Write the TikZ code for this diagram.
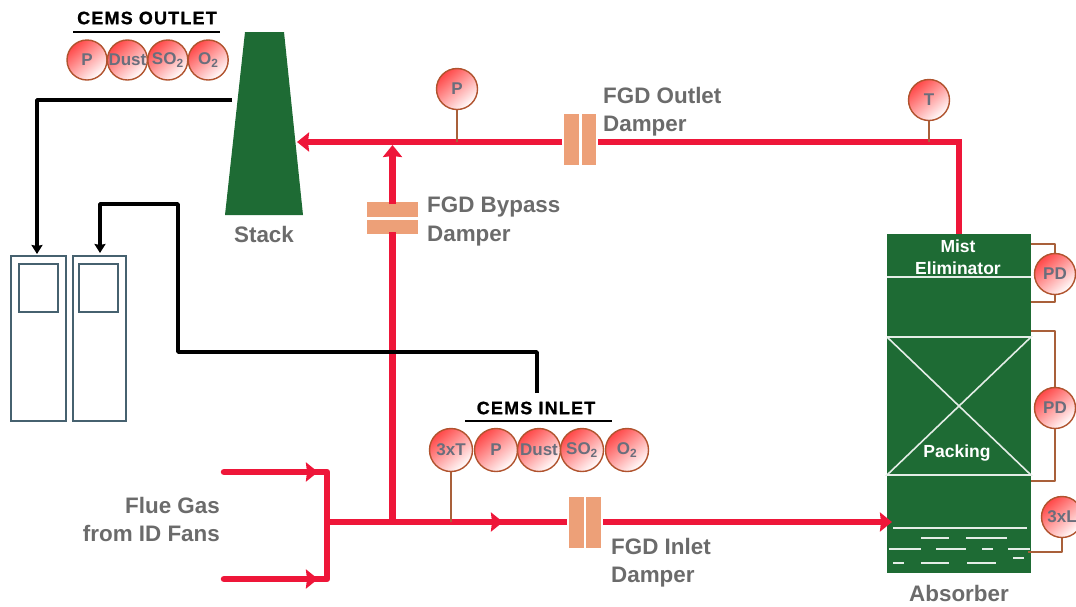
\documentclass[tikz,border=0pt]{standalone}
\usepackage{fontspec}
\setmainfont{Liberation Sans}
\usepackage{xcolor}
\usetikzlibrary{arrows.meta,positioning}
\definecolor{pipered}{HTML}{EE1639}
\definecolor{towergreen}{HTML}{1E6B34}
\definecolor{damperor}{HTML}{EDA078}
\definecolor{stembrown}{HTML}{A9603A}
\definecolor{ringbrown}{HTML}{B0532E}
\definecolor{labelgray}{HTML}{6B6B6B}
\definecolor{tagtext}{HTML}{6A6E7C}
\definecolor{cabinet}{HTML}{46616F}
\newcommand{\fsz}[1]{\fontsize{#1}{#1}\selectfont}

\begin{document}
\begin{tikzpicture}[x=1pt, y=-1pt,
  tag/.style={circle, draw=ringbrown, line width=1.4pt, minimum size=41pt, inner sep=0pt,
              shading=axis, top color=red!72!white, bottom color=white, shading angle=40,
              text=tagtext, font=\fsz{17}\bfseries},
  tagout/.style={tag, minimum size=40pt},
  tagin/.style={tag, minimum size=43pt},
  biglabel/.style={text=labelgray, font=\fsz{22.4}\bfseries, align=left, inner sep=0pt},
  inlabel/.style={text=white, font=\fsz{17.5}\bfseries, align=center, inner sep=0pt},
  cemslabel/.style={font=\fsz{17.9}\bfseries\addfontfeatures{LetterSpace=7,FakeBold=1.2}, inner sep=0pt},
  damper/.style={fill=damperor, inner sep=0pt, outer sep=0pt},
  cabinetbox/.style={draw=cabinet, line width=1.3pt, fill=white, inner sep=0pt, outer sep=0pt},
  pipe/.style={draw=pipered, line width=6.5pt},
  arr/.style={pipe, -{Stealth[length=12pt, width=19pt, inset=1pt]}},
  sigline/.style={draw=black, line width=2.8pt, line join=round},
  sigarr/.style={line width=3.6pt, line join=round, draw=black, -{Stealth[length=9pt, width=11pt, inset=1pt]}},
  stem/.style={draw=stembrown, line width=1.8pt, line join=round},
  inline/.style={draw=white!88!towergreen, line width=1.6pt}]
\clip (0,0) rectangle (1076,606);

% stack and absorber
\fill[towergreen] (245,32) -- (284,32) -- (303,215) -- (225,215) -- cycle;
\node[biglabel] (stacklbl) at (264,234) {Stack};
\node[fill=towergreen, inner sep=0pt, outer sep=0pt, minimum width=144pt, minimum height=339pt] (absorber) at (959,403.5) {};
\node[biglabel, below=12pt of absorber] (absorberlbl) {Absorber};
\draw[inline] (887,277) -- (1031,277);
\draw[inline] (887,337) -- (1031,337) -- (887,475) -- (1031,475) -- (887,337);
\draw[inline] (1031,337) -- (887,337);
\node[inlabel] (mistlbl) at (958,257) {Mist\\[4.5pt]Eliminator};
\node[inlabel] (packlbl) at (957,453) {Packing};
\foreach \xa/\xb/\yy in {893/1027/528, 921/949/538, 966/1007/538, 889/921/549, 936/966/549,
    982/993/549, 1008/1030/549, 1013/1024/558, 893/904/563, 921/949/563, 967/996/563}
  \draw[inline] (\xa,\yy) -- (\xb,\yy);

% dampers
\node[damper, minimum width=15pt, minimum height=51pt] (outd1) at (571.5,139.5) {};
\node[damper, minimum width=14pt, minimum height=51pt, right=3pt of outd1] (outd2) {};
\node[damper, minimum width=51pt, minimum height=15pt] (byp1) at (392.5,209.5) {};
\node[damper, minimum width=51pt, minimum height=14pt, below=3pt of byp1] (byp2) {};
\node[damper, minimum width=15pt, minimum height=51pt] (ind1) at (576.5,522.5) {};
\node[damper, minimum width=15pt, minimum height=51pt, right=2pt of ind1] (ind2) {};
\node[biglabel, anchor=west] (outlbl) at (603,111.5) {FGD Outlet\\[6pt]Damper};
\node[biglabel, anchor=west] (byplbl) at (427,221.5) {FGD Bypass\\[6pt]Damper};
\node[biglabel, anchor=west] (inlbl) at (611,562.5) {FGD Inlet\\[6pt]Damper};
\node[biglabel, align=right, anchor=east] (fluelbl) at (220,519.5) {Flue Gas\\[6pt]from ID Fans};

% gas pipes
\coordinate (stackin) at (297,142);
\coordinate (fluetop) at (224,472);
\coordinate (fluebot) at (224,579);
\coordinate (headtop) at (327,472);
\coordinate (headbot) at (327,579);
\coordinate (headout) at (327,522);
\coordinate (bypfoot) at (392.5,522);
\coordinate (bypjoin) at (392.5,145);
\draw[pipe] (absorber.north) |- ([xshift=2pt]outd2.east |- stackin);
\draw[arr] ([xshift=-2pt]outd1.west |- stackin) -- (stackin);
\draw[pipe] (bypfoot) -- ([yshift=2pt]byp2.south);
\draw[arr] ([yshift=-2pt]byp1.north) -- (bypjoin);
\draw[pipe, line join=round, line cap=round] (fluetop) -- (headtop) -- (headbot) -- (fluebot);
\draw[arr] (fluetop) -- ([xshift=-9pt]headtop);
\draw[arr] (fluebot) -- ([xshift=-9pt]headbot);
\draw[pipe] (headout) -- ([xshift=-2pt]ind1.west |- headout);
\draw[arr] (headout) -- (503,522);
\draw[arr] ([xshift=2pt]ind2.east |- headout) -- (892,522);

% cems cabinets
\node[cabinetbox, minimum width=55pt, minimum height=165pt] (cab1) at (38.5,338.5) {};
\node[cabinetbox, minimum width=53pt, minimum height=165pt, right=7pt of cab1] (cab2) {};
\node[cabinetbox, minimum width=39pt, minimum height=48pt] (scr1) at (38.5,288) {};
\node[cabinetbox, minimum width=39pt, minimum height=48pt] (scr2) at (98.5,288) {};
\coordinate (outtap) at (232,100);
\coordinate (intap) at (537,393);
\coordinate (cabin1) at (37,254);
\coordinate (cabin2) at (100,253);
\draw[sigarr] (outtap) -| (cabin1);
\draw[sigarr] (intap) |- (178,352) |- (100,204) -- (cabin2);

% outlet analysers
\node[cemslabel] (outhead) at (147,18) {CEMS OUTLET};
\draw[sigline] (73,32) -- (220,32);
\node[tagout] (op) at (87,60) {P};
\node[tagout, right=-1pt of op] (odust) {Dust};
\node[tagout, right=-1pt of odust] (oso) {SO\textsubscript{2}};
\node[tagout, right=-1pt of oso] (ooxy) {O\textsubscript{2}};

% inlet analysers
\node[cemslabel] (inhead) at (536,408) {CEMS INLET};
\draw[sigline] (465,421) -- (612,421);
\node[tagin] (it) at (451,450) {3xT};
\node[tagin, right=0.6pt of it] (ip) {P};
\node[tagin, right=-1.4pt of ip] (idust) {Dust};
\node[tagin, right=-1.4pt of idust] (iso) {SO\textsubscript{2}};
\node[tagin, right=0.6pt of iso] (ioxy) {O\textsubscript{2}};
\draw[stem] (it.south) -- (it.south |- headout);

% line instruments
\node[tag] (lp) at (457,89) {P};
\node[tag] (lt) at (929,100) {T};
\draw[stem] (lp.south) -- (lp.south |- stackin);
\draw[stem] (lt.south) -- (lt.south |- stackin);
\node[tag] (pd1) at (1055,274) {PD};
\node[tag] (pd2) at (1055,408) {PD};
\node[tag] (lvl) at (1062,517) {3xL};
\draw[stem] (1031,244) -| (pd1.north);
\draw[stem] (1031,302) -| (pd1.south);
\draw[stem] (1031,331) -| (pd2.north);
\draw[stem] (1031,481) -| (pd2.south);
\draw[stem] (1028,552) -| (lvl.south);
\end{tikzpicture}
\end{document}
